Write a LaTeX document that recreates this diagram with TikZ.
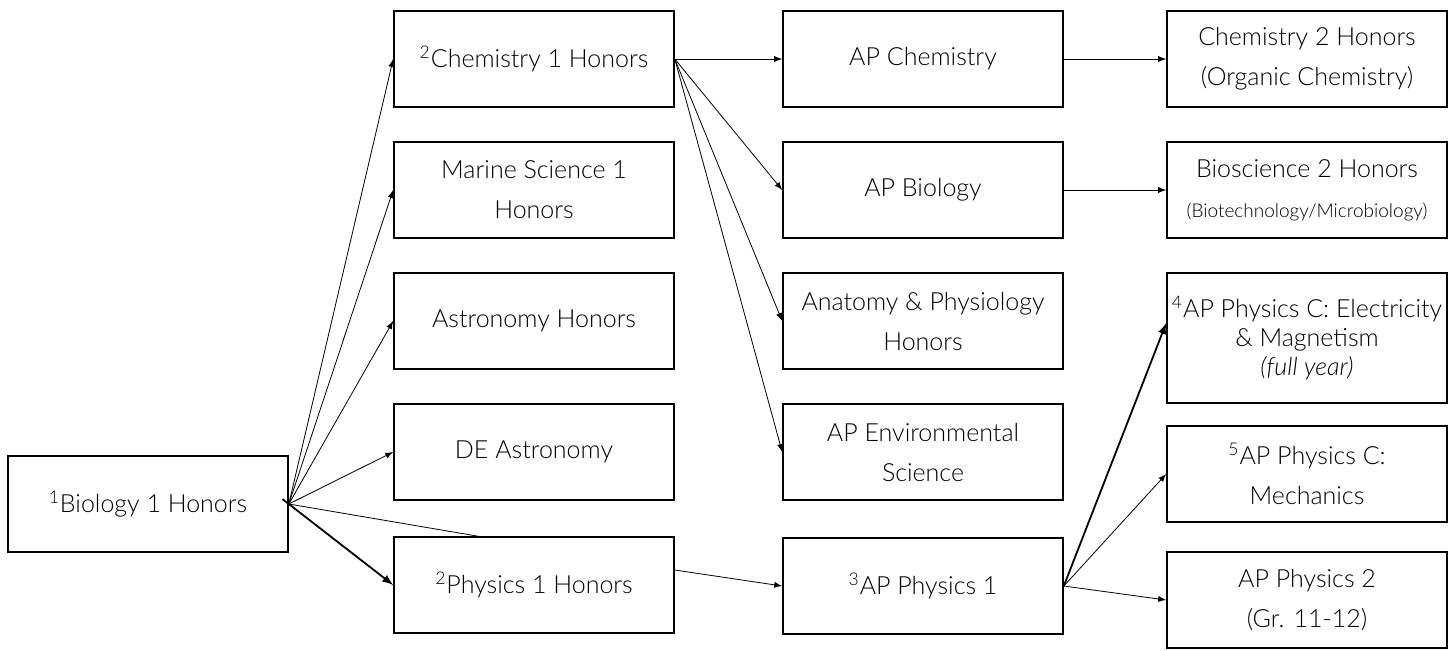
\documentclass[tikz,border=0pt]{standalone}
\usepackage{fontspec}
\setmainfont{Lato Light}[ItalicFont={Lato Light Italic}]
\usetikzlibrary{positioning}

\newcommand{\fnum}[1]{\textsuperscript{#1}}

\tikzset{course/.style={draw, line width=0.8pt, minimum width=140pt, minimum height=48pt,
    inner sep=1pt, align=center, font=\fontsize{12.5}{20}\selectfont}}
\tikzset{link/.style={-latex, line width=0.4pt}}
\tikzset{boldlink/.style={-latex, line width=0.9pt}}

\begin{document}
\begin{tikzpicture}[x=0.5pt, y=-0.5pt, node distance=65.5pt]
\useasboundingbox (0,0) rectangle (1455,650);

    \node [course] (bio) at (148,504) {\fnum{1}Biology 1 Honors};

    \node [course] (chem) at (534,59) {\fnum{2}Chemistry 1 Honors};
    \node [course, below of=chem] (marine) {Marine Science 1\\Honors};
\node [course, below of=marine] (astro) {Astronomy Honors};
\node [course, below of=astro] (deastro) {DE Astronomy};
\node [course, below of=deastro, node distance=66.5pt] (phys) {\fnum{2}Physics 1 Honors};

\node [course, right of=chem, node distance=194.5pt] (apchem) {AP Chemistry};
\node [course, below of=apchem] (apbio) {AP Biology};
\node [course, below of=apbio] (anat) {Anatomy \& Physiology\\Honors};
\node [course, below of=anat] (apenv) {AP Environmental\\Science};
\node [course, below of=apenv, node distance=67pt] (apphys) {\fnum{3}AP Physics 1};

\node [course, right of=apchem, node distance=192pt] (chemtwo) {Chemistry 2 Honors\\(Organic Chemistry)};
\node [course, below of=chemtwo] (biotwo) {Bioscience 2 Honors\\{\fontsize{9.5}{20}\selectfont(Biotechnology/Microbiology)}};
\node [course, below of=biotwo, node distance=74pt, minimum height=65pt,
       font=\fontsize{12.5}{14.5}\selectfont] (emag) {\fnum{4}AP Physics C: Electricity\\\& Magnetism\\\textit{(full year)}};
\node [course, below of=emag, node distance=68pt] (mech) {\fnum{5}AP Physics C:\\Mechanics};
\node [course, below of=mech, node distance=63pt] (phystwo) {AP Physics 2\\(Gr. 11-12)};

\draw [link] (bio.east) -- (chem.west);
\draw [link] (bio.east) -- (marine.west);
\draw [link] (bio.east) -- (astro.west);
\draw [link] (bio.east) -- (deastro.west);
\draw [boldlink, shorten <=-4pt] (bio.east) -- (phys.west);
\draw [line width=0.4pt] (bio.east) -- ([xshift=-28pt]phys.north);

\draw [link] (chem.east) -- (apchem.west);
\draw [link] (chem.east) -- (apbio.west);
\draw [link] (chem.east) -- (anat.west);
\draw [link] (chem.east) -- (apenv.west);
\draw [link] ([yshift=7.5pt]phys.east) -- (apphys.west);

\draw [link] (apchem.east) -- (chemtwo.west);
\draw [link] (apbio.east) -- (biotwo.west);
\draw [boldlink] (apphys.east) -- ([yshift=7.5pt]emag.west);
\draw [link] (apphys.east) -- (mech.west);
\draw [link] (apphys.east) -- (phystwo.west);
\end{tikzpicture}
\end{document}
